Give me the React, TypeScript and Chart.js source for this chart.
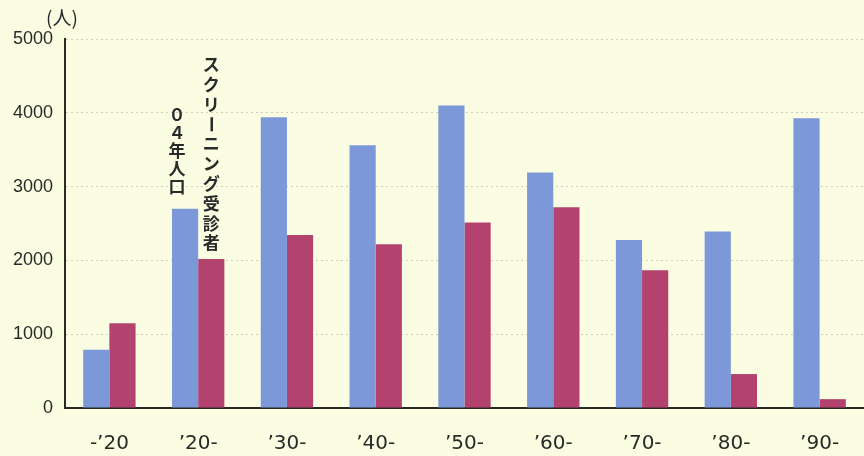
import React, { useEffect, useRef } from "react";
import { Chart, registerables } from "chart.js";

Chart.register(...registerables);

// Age cohorts (birth decade) and head counts
const categories = ["-’20", "’20-", "’30-", "’40-", "’50-", "’60-", "’70-", "’80-", "’90-"];
const population2004 = [790, 2700, 3940, 3560, 4100, 3190, 2275, 2390, 3925];
const screened = [1150, 2020, 2345, 2220, 2515, 2720, 1865, 460, 120];
const yMin = 0;
const yMax = 5000;
const yStep = 1000;

const unitLabel = "(人)";
const populationLabel = "０４年人口";
const screenedLabel = "スクリーニング受診者";

const BG = "#fafde2";
const BLUE = "#7c98d8";
const RED = "#b3426f";
const INK = "#2a2a2a";

// Paints the page-coloured backdrop behind everything
const backdrop = {
  id: "backdrop",
  beforeDraw(chart: any) {
    const { ctx, width, height } = chart;
    ctx.save();
    ctx.fillStyle = BG;
    ctx.fillRect(0, 0, width, height);
    ctx.restore();
  },
};

// Draws one column of vertical Japanese text, bottom edge at `bottom`
function drawVertical(ctx: CanvasRenderingContext2D, text: string, x: number, bottom: number, pitch: number) {
  const chars = Array.from(text);
  const n = chars.length;
  chars.forEach((ch, i) => {
    const cy = bottom - (n - i - 0.5) * pitch;
    ctx.save();
    ctx.translate(x, cy);
    if (ch === "ー") ctx.rotate(Math.PI / 2);
    ctx.fillText(ch, 0, 0);
    ctx.restore();
  });
}

// Unit caption and the vertical series labels above the '20- pair
const annotations = {
  id: "annotations",
  afterDatasetsDraw(chart: any) {
    const { ctx } = chart;
    const yScale = chart.scales.y;
    ctx.save();
    ctx.fillStyle = INK;
    ctx.textAlign = "center";
    ctx.textBaseline = "middle";
    ctx.font = "19px 'Noto Sans CJK JP'";
    ctx.fillText(unitLabel, yScale.right - 3, 18);

    const blueBar = chart.getDatasetMeta(0).data[1];
    const redBar = chart.getDatasetMeta(1).data[1];
    ctx.font = "bold 17px 'Noto Sans CJK JP'";
    drawVertical(ctx, populationLabel, blueBar.x - 8, blueBar.y - 13, 18);
    drawVertical(ctx, screenedLabel, redBar.x, redBar.y - 6, 19.8);
    ctx.restore();
  },
};

export default function App() {
  const canvasRef = useRef<HTMLCanvasElement | null>(null);

  useEffect(() => {
    const canvas = canvasRef.current;
    if (!canvas) return;
    const chart = new Chart(canvas, {
      type: "bar",
      data: {
        labels: categories,
        datasets: [
          {
            label: populationLabel,
            data: population2004,
            backgroundColor: BLUE,
            barPercentage: 1,
            categoryPercentage: 0.59,
          },
          {
            label: screenedLabel,
            data: screened,
            backgroundColor: RED,
            barPercentage: 1,
            categoryPercentage: 0.59,
          },
        ],
      },
      options: {
        animation: false,
        responsive: false,
        maintainAspectRatio: false,
        layout: { padding: { top: 39, right: 0, bottom: 0, left: 0 } },
        plugins: {
          legend: { display: false },
          tooltip: { enabled: false },
        },
        scales: {
          x: {
            grid: { display: false, drawTicks: false },
            border: { display: true, color: INK, width: 2 },
            ticks: {
              color: INK,
              padding: 24,
              font: { family: "'DejaVu Sans'", size: 20 },
              maxRotation: 0,
              autoSkip: false,
            },
            afterFit(scale: any) {
              scale.height = 48;
            },
          },
          y: {
            min: yMin,
            max: yMax,
            grid: {
              color: "rgba(175,175,150,0.6)",
              drawTicks: false,
              lineWidth: 1,
            },
            // dash applies to the horizontal grid lines; the axis line stays solid
            border: { display: true, color: INK, width: 2, dash: [2, 3] },
            ticks: {
              stepSize: yStep,
              color: INK,
              padding: 12,
              font: { family: "'Liberation Sans'", size: 18 },
              callback: (v: any) => String(v),
            },
            afterFit(scale: any) {
              scale.width = 65;
            },
          },
        },
      },
      plugins: [backdrop, annotations],
    });
    return () => chart.destroy();
  }, []);

  return (
    <div style={{ position: "fixed", left: 0, top: 0, width: 864, height: 456, background: BG }}>
      <canvas ref={canvasRef} width={864} height={456} style={{ display: "block" }} />
    </div>
  );
}
